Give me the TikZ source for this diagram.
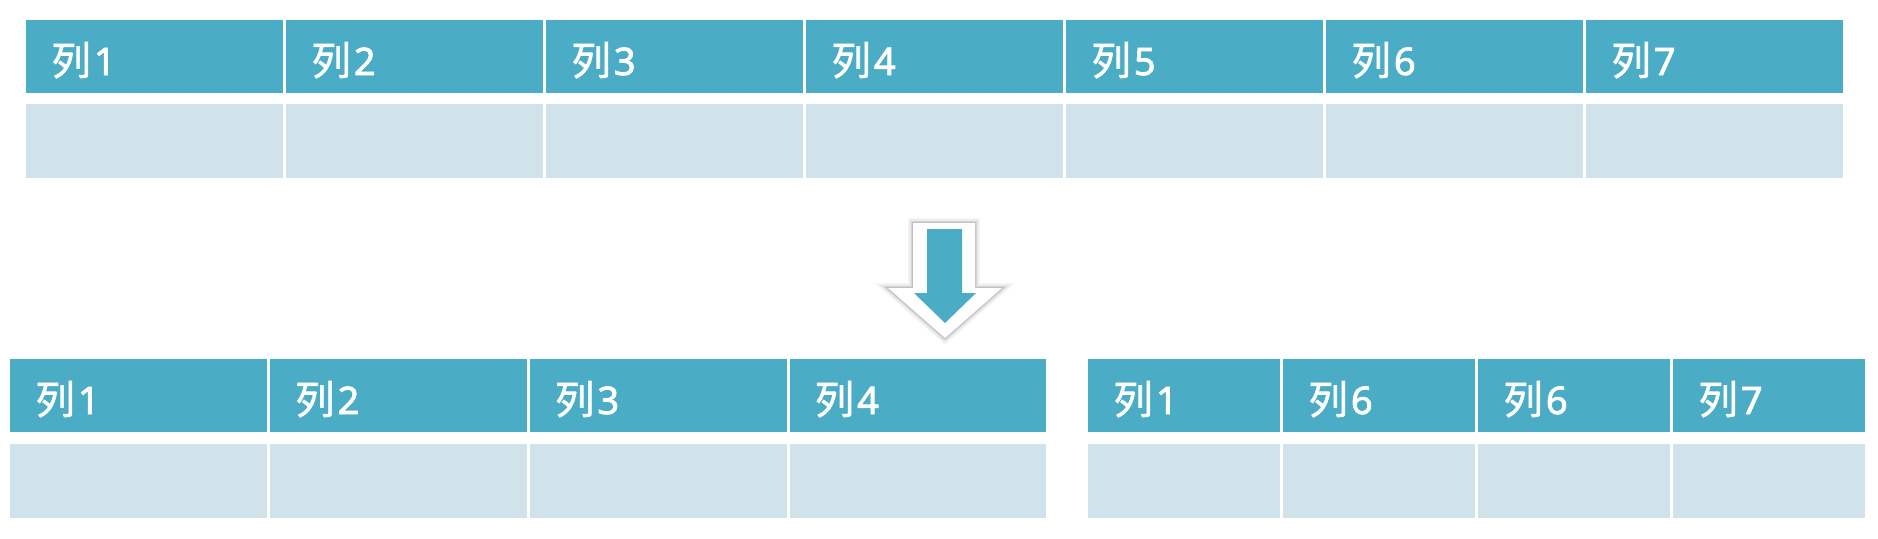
\documentclass[tikz,border=0pt]{standalone}
\usepackage{fontspec}
\setmainfont{Noto Sans}[FakeBold=2]
\newfontfamily\cjk[Scale=1.04, FakeBold=1.5]{Noto Sans CJK SC}
\usetikzlibrary{calc}
\definecolor{headblue}{HTML}{4BACC6}
\definecolor{bodyblue}{HTML}{D0E3EA}
\tikzset{
  hcell/.style={rectangle, fill=headblue, anchor=north west, inner sep=0pt, minimum height=36.5pt},
  bcell/.style={rectangle, fill=bodyblue, anchor=north west, inner sep=0pt, minimum height=37pt},
  lbl/.style={anchor=base west, inner sep=0pt, text=white, font=\fontsize{19}{22}\selectfont},
  arrowshade/.style={draw=black, line join=miter, fill=none},
}
\newcommand{\lie}{{\cjk 列}\hspace{1.5pt}}
\begin{document}
\begin{tikzpicture}[x=0.5pt, y=-0.5pt]
\useasboundingbox[fill=white] (0,0) rectangle (1878,538);
% top table
\foreach \i/\t in {1/1,2/2,3/3,4/4,5/5,6/6,7/7} {
  \pgfmathsetmacro\xx{26+(\i-1)*260}
  \node[hcell, minimum width=128.5pt] (th\i) at (\xx,20) {};
  \node[lbl] (tl\i) at ($(\xx,20)+(25,55)$) {\lie\t};
  \node[bcell, minimum width=128.5pt] (tb\i) at (\xx,104) {};
}
% bottom left table
\foreach \i/\t in {1/1,2/2,3/3,4/4} {
  \pgfmathsetmacro\xx{10+(\i-1)*259.75}
  \node[hcell, minimum width=128.4pt] (lh\i) at (\xx,359) {};
  \node[lbl] (ll\i) at ($(\xx,359)+(25,55)$) {\lie\t};
  \node[bcell, minimum width=128.4pt] (lb\i) at (\xx,444) {};
}
% bottom right table
\foreach \i/\t in {1/1,2/6,3/6,4/7} {
  \pgfmathsetmacro\xx{1088+(\i-1)*195}
  \node[hcell, minimum width=96pt] (rh\i) at (\xx,359) {};
  \node[lbl] (rl\i) at ($(\xx,359)+(25,55)$) {\lie\t};
  \node[bcell, minimum width=96pt] (rb\i) at (\xx,444) {};
}
% arrow with soft shadow
\coordinate (a1) at (913,223); \coordinate (a2) at (975,223);
\coordinate (a3) at (975,288); \coordinate (a4) at (1002,288);
\coordinate (a5) at (945,338); \coordinate (a6) at (888,288);
\coordinate (a7) at (913,288);
\foreach \w/\o in {10/0.04,7/0.05,4/0.07,2/0.1} {
  \draw[arrowshade, line width=\w*0.5pt, draw opacity=\o, shift={(1.5,2.5)}]
    (a1) -- (a2) -- (a3) -- (a4) -- (a5) -- (a6) -- (a7) -- cycle;
}
\fill[white] (a1) -- (a2) -- (a3) -- (a4) -- (a5) -- (a6) -- (a7) -- cycle;
\fill[headblue] (927,229) -- (962,229) -- (962,293) -- (976,293) -- (945,323) -- (914,293) -- (927,293) -- cycle;
\end{tikzpicture}
\end{document}
